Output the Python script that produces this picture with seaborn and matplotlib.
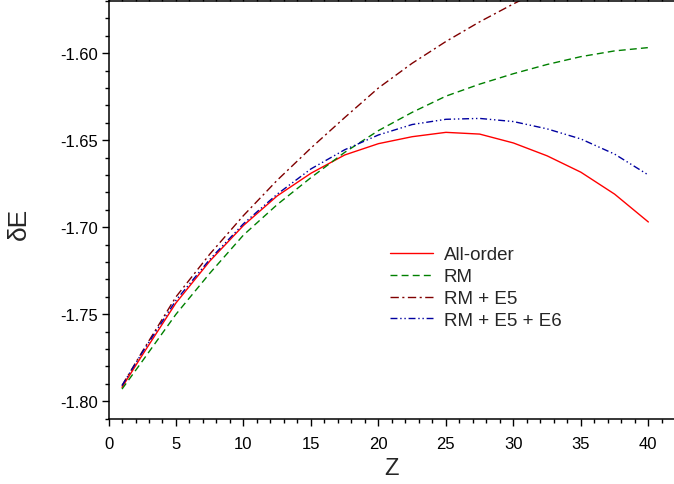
import pandas as pd
import matplotlib
matplotlib.use("Agg")
import matplotlib.pyplot as plt
from matplotlib.ticker import MultipleLocator, FormatStrFormatter
import seaborn as sns

# Z values
z_full = [1, 2.5, 5, 7.5, 10, 12.5, 15, 17.5, 20, 22.5, 25, 27.5, 30, 32.5, 35, 37.5, 40]
z_e5 = [1, 2.5, 5, 7.5, 10, 12.5, 15, 17.5, 20, 22.5, 25, 27.5, 30, 32.5]

all_order = [-1.792, -1.7735, -1.7435, -1.7195, -1.699, -1.682, -1.669, -1.6585, -1.652,
             -1.648, -1.6455, -1.6465, -1.6516, -1.659, -1.6684, -1.681, -1.697]
rm = [-1.793, -1.777, -1.750, -1.7265, -1.7045, -1.687, -1.6715, -1.657, -1.6445,
      -1.634, -1.6247, -1.6178, -1.6118, -1.6065, -1.602, -1.5987, -1.5968]
rm_e5 = [-1.791, -1.7715, -1.740, -1.7155, -1.6933, -1.673, -1.6545, -1.637, -1.620,
         -1.6058, -1.5933, -1.582, -1.5717, -1.562]
rm_e5_e6 = [-1.791, -1.772, -1.742, -1.7185, -1.698, -1.681, -1.6665, -1.6555, -1.647,
            -1.641, -1.638, -1.6375, -1.6393, -1.6435, -1.6493, -1.658, -1.670]

labels = ["All-order", "RM", "RM + E5", "RM + E5 + E6"]
colors = ["#ff0000", "#008000", "#800000", "#0000a0"]
dashes = [(None, None), (5, 3), (6, 2.5, 1.5, 2.5), (5, 2, 1, 2, 1, 2)]

sns.set_style("ticks")
plt.rcParams['font.family'] = ['Liberation Sans', 'DejaVu Sans']
plt.rcParams['axes.unicode_minus'] = False

frames = []
for lab, z, v in zip(labels, [z_full, z_full, z_e5, z_full],
                     [all_order, rm, rm_e5, rm_e5_e6]):
    frames.append(pd.DataFrame({"Z": z, "dE": v, "series": lab}))
df = pd.concat(frames, ignore_index=True)

fig = plt.figure(figsize=(6.74, 4.85), dpi=100)
ax = fig.add_axes([0.161, 0.134, 0.839, 0.862])

for lab, col, ds in zip(labels, colors, dashes):
    sub = df[df["series"] == lab]
    line = sns.lineplot(data=sub, x="Z", y="dE", ax=ax, color=col, lw=1.0,
                        label=lab, sort=False).lines[-1]
    if ds[0] is not None:
        line.set_dashes(ds)

ax.set_xlim(0, 41.9)
ax.set_ylim(-1.8102, -1.5700)
ax.xaxis.set_major_locator(MultipleLocator(5))
ax.xaxis.set_minor_locator(MultipleLocator(1))
ax.yaxis.set_major_locator(MultipleLocator(0.05))
ax.yaxis.set_minor_locator(MultipleLocator(0.01))
ax.yaxis.set_major_formatter(FormatStrFormatter('%.2f'))

for s in ["left", "bottom", "top"]:
    ax.spines[s].set_visible(True)
    ax.spines[s].set_linewidth(1.1)
    ax.spines[s].set_color("black")
ax.spines["right"].set_visible(False)

ax.tick_params(which="both", direction="out", top=True, width=1.0, colors="black")
ax.tick_params(which="major", length=5)
ax.tick_params(which="minor", length=3)
ax.tick_params(axis="x", labelsize=12, pad=7)
ax.tick_params(axis="y", labelsize=12, pad=2.5)

ax.set_xlabel("Z", fontsize=17)
ax.set_ylabel("δE", fontsize=19)
ax.xaxis.set_label_coords(0.5, -0.092)
ax.yaxis.set_label_coords(-0.137, 0.47)

ax.legend(loc="upper left", bbox_to_anchor=(0.498, 0.413), frameon=False, fontsize=13.5,
          handlelength=2.3, handletextpad=0.55, labelspacing=0.25, borderpad=0,
          borderaxespad=0)

fig.savefig("out.png", dpi=100)
